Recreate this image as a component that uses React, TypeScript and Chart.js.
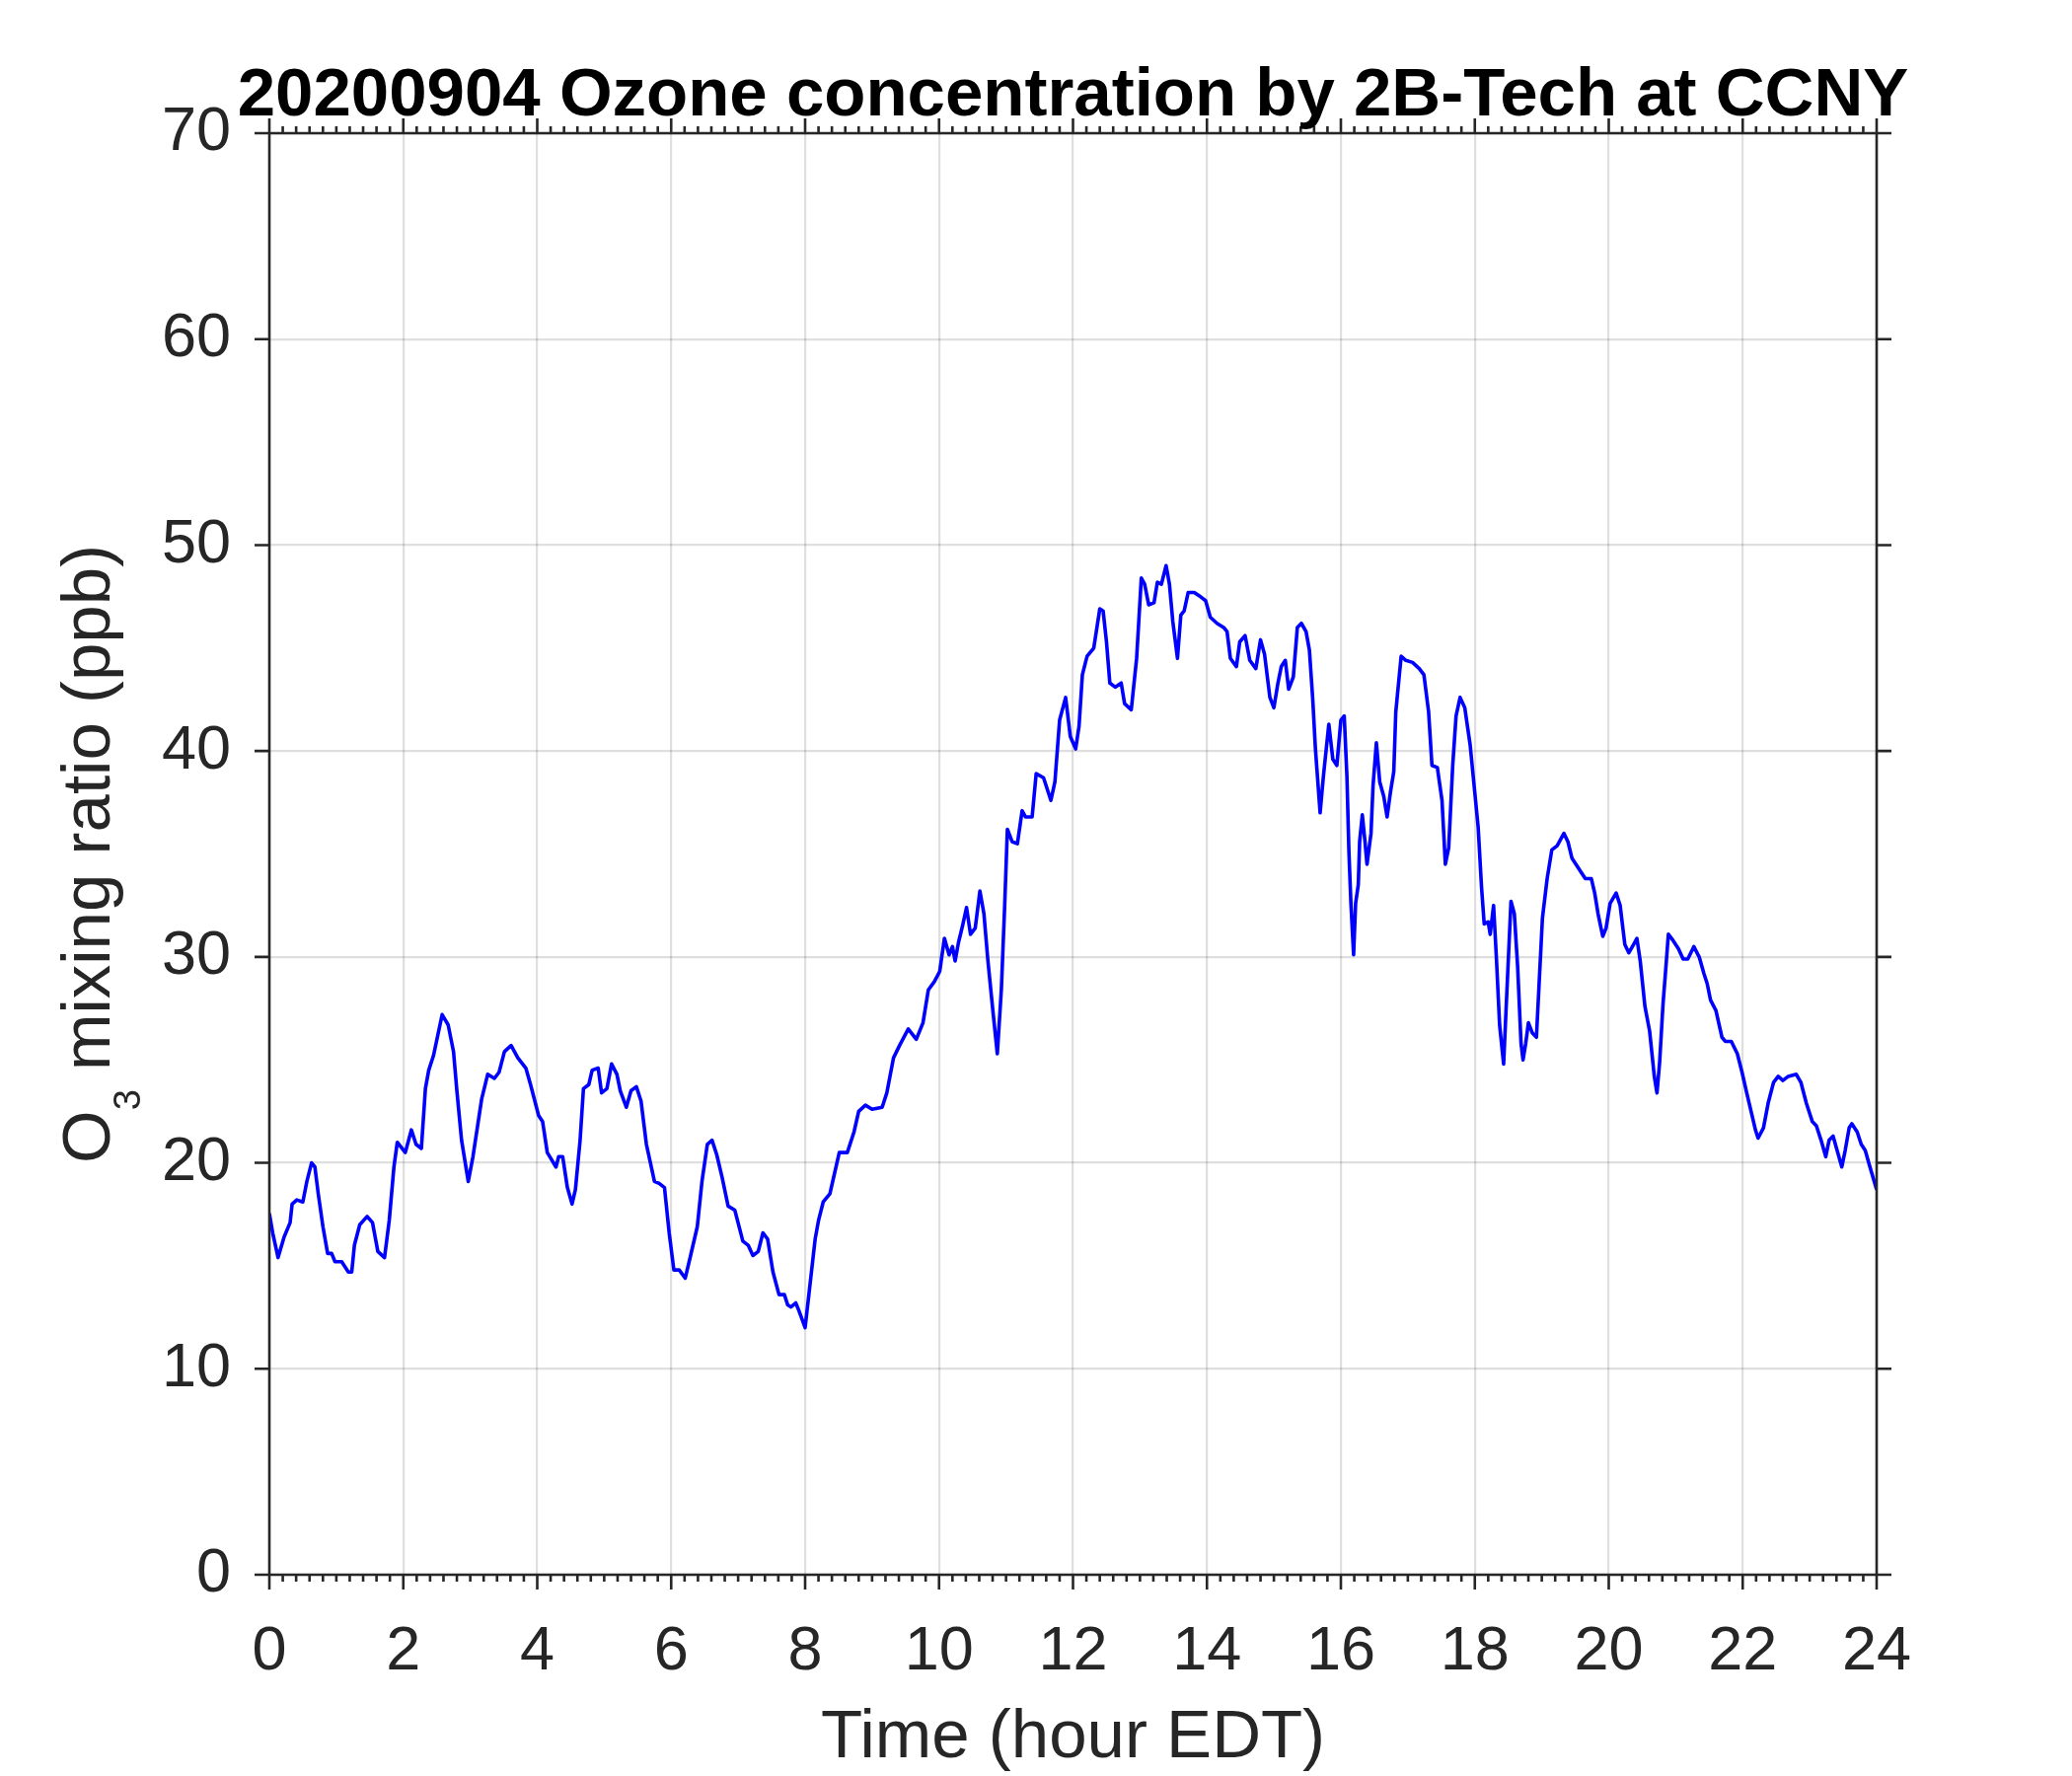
import React, { useEffect, useRef } from "react";
import { Chart, registerables } from "chart.js";

Chart.register(...registerables);

const TITLE = "20200904 Ozone concentration by 2B-Tech at CCNY";
const X_LABEL = "Time (hour EDT)";
const Y_LABEL_MAIN = "O";
const Y_LABEL_SUB = "3";
const Y_LABEL_REST = " mixing ratio (ppb)";

const xTicks = [0, 2, 4, 6, 8, 10, 12, 14, 16, 18, 20, 22, 24];
const yTicks = [0, 10, 20, 30, 40, 50, 60, 70];

// Time of day (hours, EDT)
const hours = [
  0.0, 0.05, 0.13, 0.22, 0.31, 0.34, 0.41, 0.5, 0.56, 0.63, 0.68, 0.73, 0.8, 0.87, 0.93, 0.98,
  1.08, 1.18, 1.23, 1.27, 1.35, 1.46, 1.54, 1.62, 1.72, 1.79, 1.86, 1.91, 2.03, 2.12, 2.19, 2.27,
  2.33, 2.38, 2.45, 2.58, 2.67, 2.75, 2.8, 2.87, 2.97, 3.04, 3.17, 3.26, 3.36, 3.43, 3.51, 3.61,
  3.71, 3.83, 3.9, 4.02, 4.08, 4.15, 4.28, 4.32, 4.38, 4.45, 4.52, 4.57, 4.64, 4.69, 4.77, 4.82,
  4.91, 4.96, 5.04, 5.11, 5.19, 5.24, 5.33, 5.4, 5.48, 5.55, 5.63, 5.75, 5.82, 5.9, 5.97, 6.04,
  6.12, 6.21, 6.29, 6.39, 6.46, 6.54, 6.61, 6.68, 6.76, 6.85, 6.95, 7.07, 7.15, 7.22, 7.3, 7.37,
  7.44, 7.52, 7.61, 7.69, 7.74, 7.79, 7.86, 7.91, 8.0, 8.07, 8.15, 8.2, 8.27, 8.37, 8.44, 8.51,
  8.63, 8.73, 8.8, 8.9, 9.0, 9.15, 9.22, 9.32, 9.41, 9.54, 9.66, 9.76, 9.84, 9.93, 10.01, 10.08,
  10.15, 10.2, 10.24, 10.29, 10.35, 10.41, 10.47, 10.54, 10.61, 10.67, 10.73, 10.8, 10.87, 10.93, 10.98, 11.02,
  11.09, 11.17, 11.24, 11.29, 11.39, 11.45, 11.56, 11.67, 11.73, 11.8, 11.89, 11.96, 12.04, 12.09, 12.14, 12.21,
  12.31, 12.4, 12.45, 12.5, 12.55, 12.63, 12.72, 12.77, 12.87, 12.95, 13.02, 13.07, 13.13, 13.21, 13.26, 13.32,
  13.39, 13.44, 13.49, 13.56, 13.61, 13.66, 13.72, 13.81, 13.9, 13.98, 14.05, 14.15, 14.25, 14.3, 14.35, 14.44,
  14.49, 14.57, 14.64, 14.73, 14.8, 14.86, 14.94, 15.0, 15.06, 15.11, 15.17, 15.22, 15.29, 15.35, 15.41, 15.48,
  15.53, 15.58, 15.62, 15.69, 15.74, 15.82, 15.88, 15.94, 16.0, 16.05, 16.09, 16.12, 16.15, 16.19, 16.22, 16.26,
  16.28, 16.32, 16.36, 16.39, 16.45, 16.48, 16.53, 16.58, 16.64, 16.69, 16.74, 16.79, 16.82, 16.9, 16.97, 17.07,
  17.17, 17.24, 17.31, 17.36, 17.44, 17.51, 17.56, 17.61, 17.67, 17.72, 17.78, 17.85, 17.93, 17.99, 18.05, 18.1,
  18.14, 18.2, 18.23, 18.28, 18.32, 18.37, 18.43, 18.48, 18.54, 18.59, 18.64, 18.69, 18.72, 18.76, 18.8, 18.86,
  18.92, 18.96, 19.01, 19.08, 19.15, 19.23, 19.33, 19.39, 19.45, 19.57, 19.65, 19.74, 19.79, 19.84, 19.91, 19.96,
  20.02, 20.11, 20.17, 20.24, 20.3, 20.37, 20.42, 20.47, 20.54, 20.61, 20.68, 20.72, 20.76, 20.81, 20.86, 20.89,
  20.96, 21.04, 21.11, 21.18, 21.27, 21.35, 21.42, 21.47, 21.52, 21.6, 21.69, 21.74, 21.83, 21.92, 21.99, 22.06,
  22.14, 22.19, 22.23, 22.31, 22.38, 22.46, 22.53, 22.6, 22.68, 22.8, 22.87, 22.95, 23.04, 23.1, 23.17, 23.24,
  23.29, 23.35, 23.41, 23.48, 23.53, 23.59, 23.63, 23.71, 23.77, 23.83, 23.9, 24.0,
];

// O3 mixing ratio (ppb)
const ozonePpb = [
  17.55, 16.6, 15.4, 16.4, 17.1, 18.0, 18.2, 18.1, 19.1, 20.0, 19.8, 18.5, 16.9, 15.6, 15.6, 15.2,
  15.2, 14.7, 14.7, 16.0, 17.0, 17.4, 17.1, 15.7, 15.4, 17.2, 19.8, 21.0, 20.5, 21.6, 20.9, 20.7,
  23.6, 24.5, 25.2, 27.2, 26.7, 25.4, 23.5, 21.1, 19.1, 20.3, 23.1, 24.3, 24.1, 24.4, 25.4, 25.7,
  25.1, 24.6, 23.8, 22.3, 22.0, 20.5, 19.8, 20.3, 20.3, 18.8, 18.0, 18.7, 21.1, 23.6, 23.8, 24.5,
  24.6, 23.4, 23.6, 24.8, 24.3, 23.5, 22.7, 23.5, 23.7, 23.0, 20.9, 19.1, 19.0, 18.8, 16.6, 14.8,
  14.8, 14.4, 15.5, 16.9, 19.1, 20.9, 21.1, 20.4, 19.3, 17.9, 17.7, 16.2, 16.0, 15.5, 15.7, 16.6,
  16.3, 14.7, 13.6, 13.6, 13.1, 13.0, 13.2, 12.8, 12.0, 14.0, 16.3, 17.2, 18.1, 18.5, 19.5, 20.5,
  20.5, 21.5, 22.5, 22.8, 22.6, 22.7, 23.4, 25.1, 25.7, 26.5, 26.0, 26.8, 28.4, 28.8, 29.3, 30.9,
  30.1, 30.5, 29.8, 30.7, 31.5, 32.4, 31.1, 31.4, 33.2, 32.1, 29.8, 27.5, 25.3, 28.4, 32.5, 36.2,
  35.6, 35.5, 37.1, 36.8, 36.8, 38.9, 38.7, 37.6, 38.5, 41.5, 42.6, 40.7, 40.1, 41.2, 43.7, 44.6,
  45.0, 46.9, 46.8, 45.3, 43.3, 43.1, 43.3, 42.3, 42.0, 44.5, 48.4, 48.1, 47.1, 47.2, 48.2, 48.1,
  49.0, 48.1, 46.3, 44.5, 46.6, 46.8, 47.7, 47.7, 47.5, 47.3, 46.5, 46.2, 46.0, 45.8, 44.5, 44.1,
  45.3, 45.6, 44.4, 44.0, 45.4, 44.7, 42.6, 42.1, 43.3, 44.1, 44.4, 43.0, 43.6, 46.0, 46.2, 45.8,
  44.9, 42.5, 40.1, 37.0, 38.8, 41.3, 39.6, 39.3, 41.5, 41.7, 38.8, 35.1, 32.6, 30.1, 32.6, 33.5,
  35.6, 36.9, 35.6, 34.5, 36.0, 38.3, 40.4, 38.5, 37.8, 36.8, 38.0, 39.0, 41.9, 44.6, 44.4, 44.3,
  44.0, 43.7, 41.9, 39.3, 39.2, 37.6, 34.5, 35.3, 39.3, 41.7, 42.6, 42.1, 40.3, 38.3, 36.3, 33.4,
  31.6, 31.7, 31.1, 32.5, 30.1, 26.7, 24.8, 28.4, 32.7, 32.1, 29.5, 25.8, 25.0, 25.8, 26.8, 26.3,
  26.1, 28.7, 31.9, 33.8, 35.2, 35.4, 36.0, 35.6, 34.8, 34.2, 33.8, 33.8, 33.1, 32.1, 31.0, 31.4,
  32.6, 33.1, 32.5, 30.6, 30.2, 30.6, 30.9, 29.8, 27.6, 26.4, 24.2, 23.4, 24.9, 27.7, 29.8, 31.1,
  30.8, 30.4, 29.9, 29.9, 30.5, 30.0, 29.2, 28.7, 27.9, 27.4, 26.1, 25.9, 25.9, 25.3, 24.4, 23.4,
  22.3, 21.6, 21.2, 21.7, 22.9, 23.9, 24.2, 24.0, 24.2, 24.3, 23.9, 22.9, 22.0, 21.8, 21.1, 20.3,
  21.1, 21.3, 20.6, 19.8, 20.6, 21.7, 21.9, 21.5, 20.9, 20.6, 19.8, 18.7,
];

const FONT = "'Liberation Sans', Arial, Helvetica, sans-serif";
const AXIS_COLOR = "#262626";

const matlabAxes = {
  id: "matlabAxes",
  afterDatasetsDraw(chart: any) {
    const { ctx, chartArea } = chart;
    const { left, right, top, bottom } = chartArea;
    const xs = chart.scales.x;
    const ys = chart.scales.y;
    ctx.save();
    ctx.strokeStyle = AXIS_COLOR;
    ctx.lineWidth = 2.6;
    ctx.lineCap = "butt";
    ctx.beginPath();
    ctx.rect(left, top, right - left, bottom - top);
    const major = 15;
    const minor = 7;
    const minorStep = 0.2;
    const n = Math.round((xs.max - xs.min) / minorStep);
    for (let i = 0; i <= n; i++) {
      const v = xs.min + i * minorStep;
      const px = xs.getPixelForValue(v);
      const isMajor = xTicks.some((t) => Math.abs(t - v) < 1e-6);
      const len = isMajor ? major : minor;
      ctx.moveTo(px, bottom);
      ctx.lineTo(px, bottom + len);
      ctx.moveTo(px, top);
      ctx.lineTo(px, top - len);
    }
    for (const t of yTicks) {
      const py = ys.getPixelForValue(t);
      ctx.moveTo(left - major, py);
      ctx.lineTo(left, py);
      ctx.moveTo(right, py);
      ctx.lineTo(right + major, py);
    }
    ctx.stroke();

    // chart title (drawn without width compression)
    ctx.fillStyle = "#000000";
    ctx.textAlign = "center";
    ctx.textBaseline = "alphabetic";
    ctx.font = `bold 69px ${FONT}`;
    ctx.fillText(TITLE, (left + right) / 2, 117);

    // y axis title with subscript
    const cy = (top + bottom) / 2;
    const baseX = 111;
    const mainSize = 69;
    const subSize = 38;
    ctx.fillStyle = AXIS_COLOR;
    ctx.textBaseline = "alphabetic";
    ctx.textAlign = "left";
    ctx.font = `${mainSize}px ${FONT}`;
    const wO = ctx.measureText(Y_LABEL_MAIN).width;
    const wRest = ctx.measureText(Y_LABEL_REST).width;
    ctx.font = `${subSize}px ${FONT}`;
    const wSub = ctx.measureText(Y_LABEL_SUB).width;
    const total = wO + wSub + wRest;
    ctx.translate(baseX, cy);
    ctx.rotate(-Math.PI / 2);
    let cx = -total / 2;
    ctx.font = `${mainSize}px ${FONT}`;
    ctx.fillText(Y_LABEL_MAIN, cx, 0);
    cx += wO;
    ctx.font = `${subSize}px ${FONT}`;
    ctx.fillText(Y_LABEL_SUB, cx, 31);
    cx += wSub;
    ctx.font = `${mainSize}px ${FONT}`;
    ctx.fillText(Y_LABEL_REST, cx, 0);
    ctx.restore();
  },
};

export default function App() {
  const ref = useRef<HTMLCanvasElement | null>(null);
  useEffect(() => {
    if (!ref.current) return;
    Chart.defaults.font.family = FONT;
    const points = hours.map((h, i) => ({ x: h, y: ozonePpb[i] }));
    const chart = new Chart(ref.current, {
      type: "line",
      data: {
        datasets: [
          {
            data: points,
            borderColor: "#0000ff",
            borderWidth: 3.6,
            pointRadius: 0,
            tension: 0,
            fill: false,
            borderJoinStyle: "round",
          } as any,
        ],
      },
      options: {
        responsive: false,
        animation: false,
        devicePixelRatio: 1,
        layout: { padding: { left: 0, top: 135, right: 198, bottom: 0 } },
        plugins: {
          legend: { display: false },
          tooltip: { enabled: false },
          title: { display: false },
        },
        scales: {
          x: {
            type: "linear",
            min: 0,
            max: 24,
            position: "bottom",
            afterBuildTicks: (s: any) => {
              s.ticks = xTicks.map((v) => ({ value: v }));
            },
            ticks: {
              autoSkip: false,
              maxRotation: 0,
              minRotation: 0,
              padding: 41,
              color: AXIS_COLOR,
              font: { family: FONT, size: 63 },
            },
            grid: { color: "rgba(38,38,38,0.15)", lineWidth: 2.2, drawTicks: false },
            border: { display: false },
            title: {
              display: true,
              text: X_LABEL,
              color: AXIS_COLOR,
              font: { family: FONT, size: 69, lineHeight: 1.1 },
              padding: { top: 0, bottom: 0 },
            },
            afterFit: (s: any) => {
              s.height = 204;
            },
          },
          y: {
            type: "linear",
            min: 0,
            max: 70,
            position: "left",
            afterBuildTicks: (s: any) => {
              s.ticks = yTicks.map((v) => ({ value: v }));
            },
            ticks: {
              padding: 39,
              color: AXIS_COLOR,
              font: { family: FONT, size: 63 },
            },
            grid: { color: "rgba(38,38,38,0.15)", lineWidth: 2.2, drawTicks: false },
            border: { display: false },
            afterFit: (s: any) => {
              s.width = 273;
            },
          },
        },
      },
      plugins: [matlabAxes],
    });
    return () => chart.destroy();
  }, []);
  return (
    <canvas
      ref={ref}
      width={2100}
      height={1800}
      style={{ position: "absolute", left: 0, top: 0, width: 2100, height: 1800, display: "block" }}
    />
  );
}
